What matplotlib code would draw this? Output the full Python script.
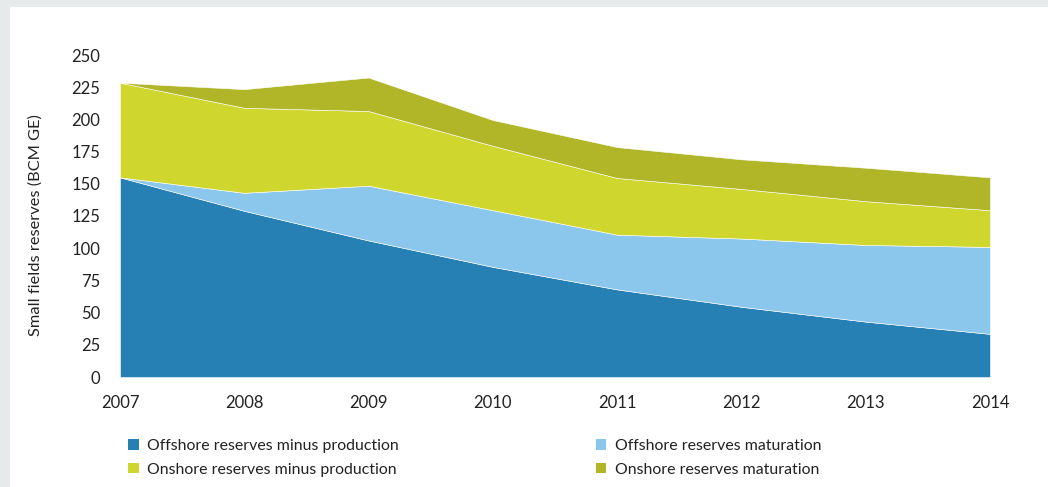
import matplotlib
matplotlib.use("Agg")
import matplotlib.pyplot as plt
from matplotlib.patches import Rectangle, Patch

plt.rcParams['font.family'] = ['Lato', 'DejaVu Sans']

# data (BCM GE)
years = [2007, 2008, 2009, 2010, 2011, 2012, 2013, 2014]
offshore_minus_prod = [155, 129, 106, 85.5, 68, 54.5, 43, 33.5]
offshore_maturation = [0, 14, 42.5, 44, 42.5, 53, 59.5, 67.5]
onshore_minus_prod = [73.5, 66, 58, 50, 44, 38.5, 34, 28.5]
onshore_maturation = [0, 14.5, 26, 20, 24, 23, 26, 25.5]

labels = ["Offshore reserves minus production", "Offshore reserves maturation",
          "Onshore reserves minus production", "Onshore reserves maturation"]
colors = ["#2780b4", "#8bc6ec", "#cfd62e", "#b0b628"]
y_ticks = [0, 25, 50, 75, 100, 125, 150, 175, 200, 225, 250]

W, H = 1048, 487
fig = plt.figure(figsize=(W / 100, H / 100), dpi=100, facecolor="#e6eaea")
# white panel inside the grey frame
fig.patches.append(Rectangle((10 / W, 0), 1 - 10 / W, 1 - 7 / H,
                             transform=fig.transFigure, facecolor="white",
                             edgecolor="none", zorder=-10))

ax = fig.add_axes([120 / W, (H - 377) / H, (990 - 120) / W, (377 - 55) / H])
ax.set_zorder(1)
ax.set_facecolor("none")
ax.stackplot(years, offshore_minus_prod, offshore_maturation,
             onshore_minus_prod, onshore_maturation,
             colors=colors, linewidth=0.4, edgecolor="white")

ax.set_xlim(2007, 2014)
ax.set_ylim(0, 250)
ax.set_xticks(years)
ax.set_yticks(y_ticks)
for s in ax.spines.values():
    s.set_visible(False)
ax.tick_params(axis="x", length=0, pad=13, labelsize=12, labelcolor="#222222")
ax.tick_params(axis="y", length=0, pad=14, labelsize=12, labelcolor="#222222")
ax.set_ylabel("Small fields reserves (BCM GE)", fontsize=11.8, color="#222222")
ax.yaxis.set_label_coords(-0.089, 0.472)

# legend: column-first order gives dark/yellow on the left, light/olive on the right
order = [0, 2, 1, 3]
handles = [Patch(facecolor=colors[i], edgecolor="none") for i in order]
fig.legend(handles, [labels[i] for i in order], ncol=2,
           loc="upper left", bbox_to_anchor=(114 / W, 1 - 425 / H),
           frameon=False, fontsize=11.4, handlelength=0.65, handleheight=0.65,
           handletextpad=0.55, columnspacing=12.45, labelspacing=0.6,
           labelcolor="#222222")

fig.savefig("out.png", dpi=100, facecolor=fig.get_facecolor())
